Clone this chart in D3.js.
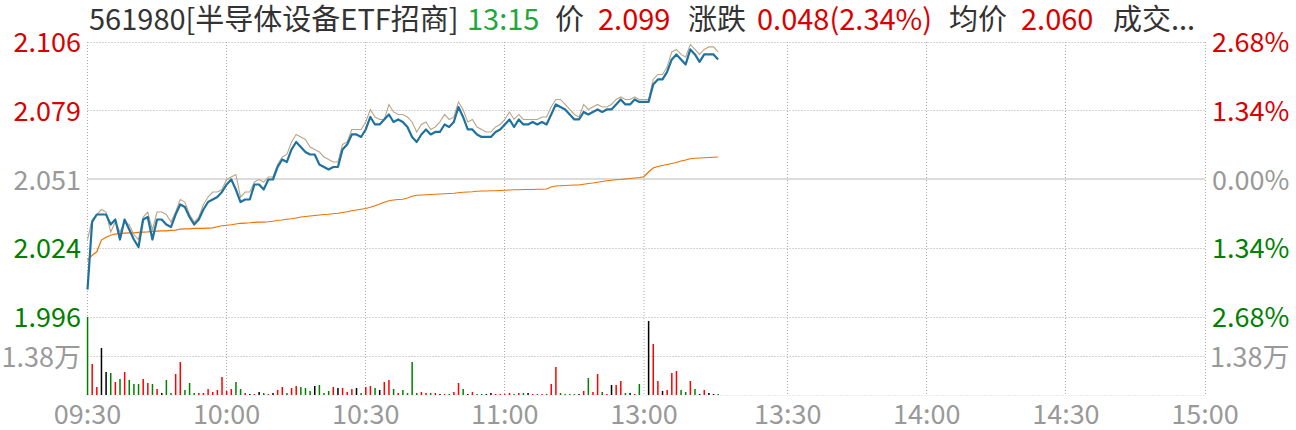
<!DOCTYPE html>
<html>
<head>
<meta charset="utf-8">
<script src="https://cdn.jsdelivr.net/npm/d3@7"></script>
<style>
body { margin: 0; background: #fff; }
svg { display: block; font-family: "Noto Sans CJK SC", "Noto Sans", sans-serif; }
</style>
</head>
<body>
<div id="chart"></div>
<script>
var width = 1296,
    height = 430;

// ---- data ----
var prevClose = 2.051;
var maxPct = 2.68;

var titleParts = ['561980[半导体设备ETF招商]', '13:15', '价', '2.099', '涨跌', '0.048(2.34%)', '均价', '2.060', '成交...'];
var titleKind = ['name', 'time', 'name', 'up', 'name', 'up', 'name', 'up', 'name'];

var timeLabels = ['09:30', '10:00', '10:30', '11:00', '13:00', '13:30', '14:00', '14:30', '15:00'];
var timeSlots = [0, 30, 60, 90, 120, 151, 181, 211, 241];

var priceLabels = ['2.106', '2.079', '2.051', '2.024', '1.996'];
var pctLabels = ['2.68%', '1.34%', '0.00%', '1.34%', '2.68%'];
var pctLevels = [2.68, 1.34, 0, -1.34, -2.68];

var volMax = 27600;
var volTick = 13800;
var volLabel = '1.38万';

// last price per minute slot (09:30 .. 11:30, 13:00 .. 13:15)
var price = [
    2.007, 2.034, 2.037, 2.037, 2.037, 2.033, 2.035, 2.027, 2.035, 2.031,
    2.027, 2.024, 2.035, 2.036, 2.027, 2.035, 2.035, 2.033, 2.032, 2.037,
    2.041, 2.040, 2.036, 2.033, 2.035, 2.039, 2.042, 2.043, 2.044, 2.046,
    2.049, 2.051, 2.047, 2.042, 2.043, 2.043, 2.049, 2.049, 2.047, 2.051,
    2.051, 2.056, 2.059, 2.058, 2.063, 2.066, 2.064, 2.062, 2.061, 2.061,
    2.057, 2.056, 2.055, 2.056, 2.056, 2.063, 2.065, 2.069, 2.069, 2.068,
    2.071, 2.076, 2.073, 2.073, 2.075, 2.077, 2.074, 2.075, 2.074, 2.072,
    2.068, 2.066, 2.069, 2.071, 2.069, 2.070, 2.070, 2.073, 2.072, 2.074,
    2.080, 2.076, 2.071, 2.071, 2.069, 2.068, 2.068, 2.068, 2.070, 2.071,
    2.073, 2.075, 2.072, 2.075, 2.073, 2.073, 2.074, 2.073, 2.074, 2.073,
    2.077, 2.081, 2.080, 2.079, 2.077, 2.075, 2.075, 2.078, 2.077, 2.078,
    2.079, 2.078, 2.079, 2.079, 2.081, 2.083, 2.081, 2.081, 2.083, 2.082,
    2.082, 2.082, 2.089, 2.091, 2.091, 2.094, 2.099, 2.101, 2.099, 2.097,
    2.103, 2.101, 2.098, 2.101, 2.101, 2.101, 2.099
];

// thin tan line (estimated value)
var iopv = [
    2.027, 2.035, 2.037, 2.039, 2.038, 2.030, 2.034, 2.030, 2.034, 2.033,
    2.029, 2.027, 2.036, 2.038, 2.031, 2.038, 2.038, 2.037, 2.034, 2.038,
    2.043, 2.042, 2.037, 2.034, 2.036, 2.041, 2.044, 2.046, 2.046, 2.047,
    2.051, 2.052, 2.053, 2.044, 2.046, 2.046, 2.050, 2.051, 2.050, 2.052,
    2.052, 2.057, 2.060, 2.061, 2.066, 2.069, 2.068, 2.067, 2.064, 2.063,
    2.062, 2.060, 2.059, 2.058, 2.058, 2.065, 2.066, 2.071, 2.071, 2.071,
    2.074, 2.079, 2.076, 2.075, 2.075, 2.081, 2.078, 2.077, 2.077, 2.076,
    2.074, 2.070, 2.073, 2.074, 2.071, 2.072, 2.074, 2.077, 2.075, 2.076,
    2.082, 2.079, 2.074, 2.075, 2.072, 2.071, 2.070, 2.070, 2.072, 2.073,
    2.075, 2.078, 2.075, 2.077, 2.075, 2.075, 2.075, 2.075, 2.076, 2.076,
    2.080, 2.083, 2.083, 2.081, 2.079, 2.077, 2.076, 2.081, 2.079, 2.080,
    2.081, 2.080, 2.080, 2.081, 2.083, 2.084, 2.083, 2.083, 2.084, 2.083,
    2.083, 2.083, 2.091, 2.093, 2.093, 2.096, 2.102, 2.103, 2.101, 2.100,
    2.105, 2.103, 2.101, 2.103, 2.104, 2.104, 2.102
];

// average price
var avgPrice = [
    2.0188, 2.0207, 2.0221, 2.0268, 2.0279, 2.0287, 2.0292, 2.0295, 2.0296, 2.0297,
    2.0297, 2.0299, 2.0300, 2.0301, 2.0303, 2.0304, 2.0305, 2.0305, 2.0307, 2.0308,
    2.0312, 2.0313, 2.0313, 2.0315, 2.0315, 2.0315, 2.0316, 2.0317, 2.0321, 2.0325,
    2.0327, 2.0329, 2.0332, 2.0335, 2.0336, 2.0337, 2.0339, 2.0340, 2.0340, 2.0341,
    2.0343, 2.0347, 2.0348, 2.0351, 2.0353, 2.0356, 2.0360, 2.0362, 2.0364, 2.0366,
    2.0368, 2.0370, 2.0371, 2.0373, 2.0375, 2.0378, 2.0381, 2.0385, 2.0388, 2.0391,
    2.0394, 2.0399, 2.0405, 2.0412, 2.0419, 2.0425, 2.0428, 2.0430, 2.0431, 2.0436,
    2.0443, 2.0447, 2.0448, 2.0449, 2.0450, 2.0451, 2.0452, 2.0453, 2.0454, 2.0455,
    2.0457, 2.0459, 2.0460, 2.0461, 2.0463, 2.0464, 2.0464, 2.0465, 2.0465, 2.0466,
    2.0467, 2.0468, 2.0469, 2.0469, 2.0470, 2.0470, 2.0470, 2.0471, 2.0471, 2.0472,
    2.0480, 2.0484, 2.0485, 2.0486, 2.0487, 2.0488, 2.0488, 2.0491, 2.0494, 2.0496,
    2.0499, 2.0502, 2.0505, 2.0507, 2.0509, 2.0510, 2.0512, 2.0514, 2.0516, 2.0518,
    2.0521, 2.0540, 2.0556, 2.0562, 2.0566, 2.0570, 2.0574, 2.0578, 2.0584, 2.0588,
    2.0593, 2.0595, 2.0596, 2.0597, 2.0598, 2.0599, 2.0600
];

// volume per minute
var volume = [
    27600, 10970, 2830, 16630, 8140, 7780, 4600, 5660, 8140, 5310,
    3890, 3890, 5660, 4250, 3890, 2120, 710, 5310, 710, 7430,
    11680, 1770, 4250, 710, 710, 710, 2120, 1060, 1770, 6370,
    1420, 2120, 4600, 2120, 710, 350, 350, 1060, 710, 350,
    710, 1770, 2830, 710, 2480, 3180, 2830, 2480, 1420, 3180,
    3540, 710, 1420, 2830, 2480, 2480, 1060, 2120, 2480, 710,
    2830, 3180, 2480, 1770, 4600, 5310, 2120, 710, 1770, 710,
    11680, 710, 1060, 710, 710, 710, 350, 350, 350, 1060,
    4250, 2120, 350, 1060, 350, 350, 350, 710, 350, 350,
    350, 710, 350, 710, 710, 710, 350, 350, 350, 350,
    3890, 9910, 710, 350, 350, 350, 350, 1420, 6020, 1060,
    7430, 1060, 350, 3540, 3540, 4960, 710, 710, 350, 3890,
    0, 26190, 18050, 4960, 1420, 1770, 7780, 8490, 1770, 1060,
    4960, 2120, 350, 1770, 710, 350, 350
];

// bar colour: r = up, g = down, k = flat
var volDir = (
    'grrkkgrgrg' + 'ggrrgrkggr' + 'rgggrrrrrr' + 'rrggrkrkgr' + 'krrgrrgggk' +
    'gggrkrrrkg' + 'rrgkrrgrgg' + 'ggrrgrkrgr' + 'rgkrggkkrr' + 'rrgrgkrgrg' +
    'rrggggkrgr' + 'rgrkrrgkrg' + 'kkrrkrrrgg' + 'rgkrkkg'
).split('');

// ---- layout ----
var plotLeft = 87.5, plotRight = 1205,
    plotTop = 42, priceBottom = 317, volBottom = 395;

var red = '#d90000', green = '#008000', grey = '#999999', dark = '#333333';

var svg = d3.select('#chart').append('svg')
    .attr('width', width)
    .attr('height', height);

var x = d3.scaleLinear().domain([0, 241]).range([plotLeft, plotRight]);
var y = d3.scaleLinear()
    .domain([prevClose * (1 - maxPct / 100), prevClose * (1 + maxPct / 100)])
    .range([priceBottom, plotTop]);
var yv = d3.scaleLinear().domain([0, volMax]).range([volBottom, priceBottom]);

function crisp(v) { return Math.round(v - 0.5) + 0.5; }
function levelY(p) { return y(prevClose * (1 + p / 100)); }

var grid = svg.append('g');

// horizontal grid
pctLevels.forEach(function(p) {
    if (p === 0) {
        var y0 = Math.round(levelY(p));
        grid.append('line')
            .attr('x1', plotLeft).attr('x2', plotRight)
            .attr('y1', y0).attr('y2', y0)
            .attr('stroke', '#dcdcdc').attr('stroke-width', 2);
    } else {
        var yy = crisp(levelY(p));
        grid.append('line')
            .attr('x1', plotLeft).attr('x2', plotRight)
            .attr('y1', yy).attr('y2', yy)
            .attr('stroke', '#aaa').attr('stroke-dasharray', '1,2');
    }
});
[volTick, 0].forEach(function(v) {
    var yy = crisp(yv(v));
    grid.append('line')
        .attr('x1', plotLeft).attr('x2', plotRight)
        .attr('y1', yy).attr('y2', yy)
        .attr('stroke', v === 0 ? '#ddd' : '#aaa').attr('stroke-dasharray', '1,2');
});

// vertical grid
timeSlots.forEach(function(s, i) {
    var midday = timeLabels[i] === '13:00';
    var xx = midday ? Math.round(x(s)) : crisp(x(s));
    grid.append('line')
        .attr('x1', xx).attr('x2', xx)
        .attr('y1', plotTop).attr('y2', volBottom)
        .attr('stroke', midday ? '#d4d4d4' : '#aaa')
        .attr('stroke-width', midday ? 2 : 1)
        .attr('stroke-dasharray', '1,2');
});

// volume bars
var barColor = { r: '#ff0000', g: '#008000', k: '#000000' };
svg.append('g').selectAll('rect')
    .data(volume)
    .enter()
    .append('rect')
    .attr('x', function(d, i) { return x(i) - 0.7; })
    .attr('width', 1.5)
    .attr('y', function(d) { return yv(d); })
    .attr('height', function(d) { return volBottom - yv(d); })
    .attr('fill', function(d, i) { return barColor[volDir[i]]; });

// lines
var line = d3.line()
    .x(function(d, i) { return x(i); })
    .y(function(d) { return y(d); });

svg.append('path').attr('d', line(avgPrice))
    .attr('fill', 'none').attr('stroke', '#f07000').attr('stroke-width', 1.2);
svg.append('path').attr('d', line(iopv))
    .attr('fill', 'none').attr('stroke', '#b9a587').attr('stroke-width', 1.1);
svg.append('path').attr('d', line(price))
    .attr('fill', 'none').attr('stroke', '#1e72a0').attr('stroke-width', 2.2)
    .attr('stroke-linejoin', 'round');

// axis labels
function levelColor(p) { return p > 0 ? red : (p < 0 ? green : grey); }

svg.append('g').selectAll('text')
    .data(pctLevels)
    .enter()
    .append('text')
    .attr('x', 81)
    .attr('y', function(p) { return levelY(p) + 10; })
    .attr('text-anchor', 'end')
    .attr('font-size', 27)
    .attr('fill', levelColor)
    .text(function(p, i) { return priceLabels[i]; });

svg.append('g').selectAll('text')
    .data(pctLevels)
    .enter()
    .append('text')
    .attr('x', 1212)
    .attr('y', function(p) { return levelY(p) + 10; })
    .attr('font-size', 27)
    .attr('fill', levelColor)
    .text(function(p, i) { return pctLabels[i]; });

svg.append('text')
    .attr('x', 81).attr('y', yv(volTick) + 11)
    .attr('text-anchor', 'end').attr('font-size', 27).attr('fill', grey)
    .text(volLabel);
svg.append('text')
    .attr('x', 1210).attr('y', yv(volTick) + 11)
    .attr('font-size', 27).attr('fill', grey)
    .text(volLabel);

// time labels
svg.append('g').selectAll('text')
    .data(timeSlots)
    .enter()
    .append('text')
    .attr('x', function(s) { return x(s); })
    .attr('y', 424)
    .attr('text-anchor', 'middle')
    .attr('font-size', 27)
    .attr('fill', grey)
    .text(function(s, i) { return timeLabels[i]; });

// title
var titleX = [89, 467, 555, 598, 688, 757, 949, 1021, 1113];
var titleColor = { name: dark, time: '#22a83a', up: red };
svg.append('g').selectAll('text')
    .data(titleParts)
    .enter()
    .append('text')
    .attr('x', function(d, i) { return titleX[i]; })
    .attr('y', 30)
    .attr('font-size', 29)
    .attr('fill', function(d, i) { return titleColor[titleKind[i]]; })
    .text(function(d) { return d; });
</script>
</body>
</html>
